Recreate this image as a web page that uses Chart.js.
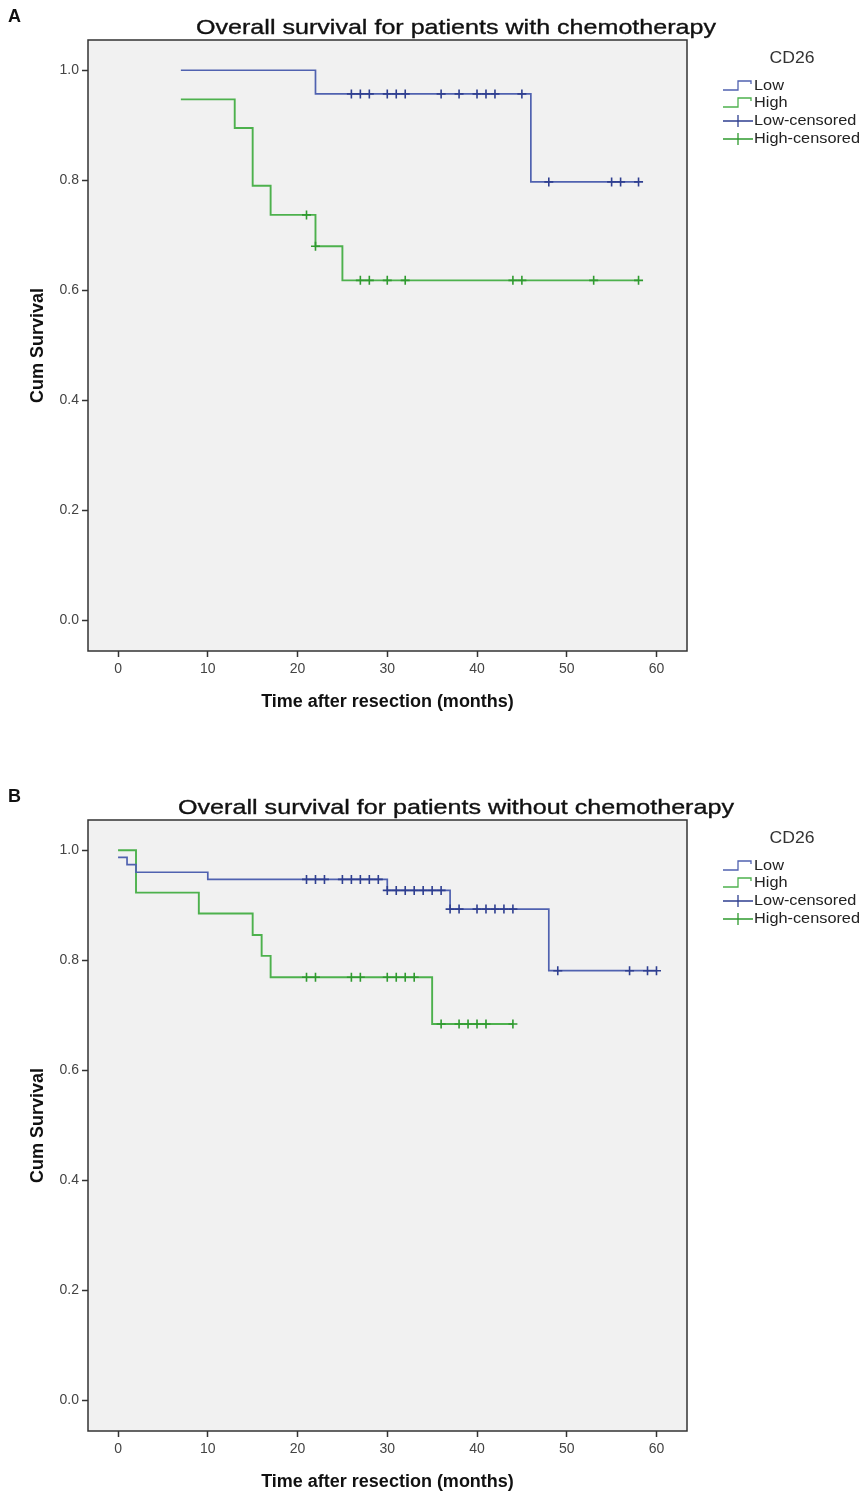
<!DOCTYPE html>
<html><head><meta charset="utf-8">
<script src="https://cdn.jsdelivr.net/npm/chart.js@4.4.0/dist/chart.umd.min.js"></script>
<style>
html,body{margin:0;padding:0;background:#fff;width:861px;height:1495px;overflow:hidden;}
.wrap{position:absolute;left:0;width:861px;}
</style></head><body>
<div class="wrap" style="top:0;height:780px"><canvas id="cA" width="861" height="780"></canvas></div>
<div class="wrap" style="top:780px;height:715px"><canvas id="cB" width="861" height="715"></canvas></div>
<script>
// ---- text / ticks ----
const xTickValues = [0, 10, 20, 30, 40, 50, 60];
const yTickValues = [0, 0.2, 0.4, 0.6, 0.8, 1.0];
const legendTitle = 'CD26';
const legendLabels = ['Low', 'High', 'Low-censored', 'High-censored'];
const panelLetters = ['A', 'B'];
const titleA = 'Overall survival for patients with chemotherapy';
const titleB = 'Overall survival for patients without chemotherapy';
const xAxisTitle = 'Time after resection (months)';
const yAxisTitle = 'Cum Survival';

// ---- Panel A (with chemotherapy) ----
const lowATime = [7, 22, 46, 58];
const lowASurv = [1.0, 0.957, 0.797, 0.797];
const highATime = [7, 13, 15, 17, 22, 25, 58];
const highASurv = [0.947, 0.895, 0.790, 0.737, 0.680, 0.618, 0.618];
const lowACensTime = [26, 27, 28, 30, 31, 32, 36, 38, 40, 41, 42, 45, 48, 55, 56, 58];
const lowACensSurv = [0.957, 0.957, 0.957, 0.957, 0.957, 0.957, 0.957, 0.957, 0.957, 0.957, 0.957, 0.957, 0.797, 0.797, 0.797, 0.797];
const highACensTime = [21, 22, 27, 28, 30, 32, 44, 45, 53, 58];
const highACensSurv = [0.737, 0.680, 0.618, 0.618, 0.618, 0.618, 0.618, 0.618, 0.618, 0.618];

// ---- Panel B (without chemotherapy) ----
const lowBTime = [0, 1, 2, 10, 30, 37, 48, 60];
const lowBSurv = [0.987, 0.974, 0.960, 0.947, 0.927, 0.893, 0.781, 0.781];
const highBTime = [0, 2, 9, 15, 16, 17, 35, 44];
const highBSurv = [1.0, 0.923, 0.885, 0.846, 0.808, 0.769, 0.684, 0.684];
const lowBCensTime = [21, 22, 23, 25, 26, 27, 28, 29, 30, 31, 32, 33, 34, 35, 36, 37, 38, 40, 41, 42, 43, 44, 49, 57, 59, 60];
const lowBCensSurv = [0.947, 0.947, 0.947, 0.947, 0.947, 0.947, 0.947, 0.947, 0.927, 0.927, 0.927, 0.927, 0.927, 0.927, 0.927, 0.893, 0.893, 0.893, 0.893, 0.893, 0.893, 0.893, 0.781, 0.781, 0.781, 0.781];
const highBCensTime = [21, 22, 26, 27, 30, 31, 32, 33, 36, 38, 39, 40, 41, 44];
const highBCensSurv = [0.769, 0.769, 0.769, 0.769, 0.769, 0.769, 0.769, 0.769, 0.684, 0.684, 0.684, 0.684, 0.684, 0.684];

const lowLine = '#5062b0', lowMark = '#2f3f90';
const highLine = '#4db14d', highMark = '#2f9a2f';

function pts(t, s) { return t.map((v, i) => ({ x: v, y: s[i] })); }

function drawStretched(ctx, text, x, y, font, width, align, stroke) {
  ctx.save();
  ctx.font = font;
  const w = ctx.measureText(text).width;
  const k = width ? width / w : 1;
  ctx.translate(x, y);
  ctx.scale(k, 1);
  ctx.textAlign = align || 'left';
  ctx.textBaseline = 'middle';
  ctx.fillText(text, 0, 0);
  if (stroke) { ctx.lineWidth = stroke; ctx.strokeStyle = ctx.fillStyle; ctx.strokeText(text, 0, 0); }
  ctx.restore();
}

const decor = {
  id: 'decor',
  beforeDraw(chart) {
    const { ctx, chartArea: a } = chart;
    ctx.save();
    ctx.fillStyle = '#f1f1f1';
    ctx.fillRect(a.left, a.top, a.right - a.left, a.bottom - a.top);
    ctx.restore();
  },
  beforeDatasetsDraw(chart) {
    const { ctx, chartArea: a } = chart;
    ctx.save();
    ctx.strokeStyle = '#333';
    ctx.lineWidth = 1.5;
    ctx.strokeRect(a.left, a.top, a.right - a.left, a.bottom - a.top);
    ctx.restore();
  },
  afterDraw(chart, args, o) {
    const ctx = chart.ctx;
    ctx.save();
    ctx.fillStyle = '#111';
    drawStretched(ctx, o.letter, 8, 17, 'bold 18px "Liberation Sans", Arial, sans-serif', 0, 'left');
    ctx.fillStyle = '#111';
    drawStretched(ctx, o.title, o.titleX, 28, '21px "Liberation Sans", Arial, sans-serif', o.titleW, 'center', 0.35);
    // legend
    ctx.fillStyle = '#333';
    drawStretched(ctx, legendTitle, 792, 59, '16px "Liberation Sans", Arial, sans-serif', 45, 'center');
    const rows = [86, 103, 121, 139];
    const cols = [lowLine, highLine, lowMark, highMark];
    const f = '15px "Liberation Sans", Arial, sans-serif';
    ctx.font = f;
    const k = 106 / ctx.measureText(legendLabels[3]).width;
    rows.forEach((y, i) => {
      ctx.strokeStyle = cols[i];
      ctx.lineWidth = 1.3;
      ctx.beginPath();
      if (i < 2) {
        ctx.moveTo(723, y + 4); ctx.lineTo(738, y + 4); ctx.lineTo(738, y - 5);
        ctx.lineTo(751, y - 5); ctx.lineTo(751, y - 2);
      } else {
        ctx.moveTo(723, y); ctx.lineTo(753, y);
        ctx.moveTo(738, y - 6); ctx.lineTo(738, y + 6);
      }
      ctx.stroke();
      ctx.fillStyle = '#222';
      ctx.font = f;
      const w = ctx.measureText(legendLabels[i]).width * k;
      drawStretched(ctx, legendLabels[i], 754, y, f, w, 'left');
    });
    ctx.restore();
  }
};

function makeChart(id, letter, title, titleW, low, high, lowC, highC) {
  const canvas = document.getElementById(id);
  const H = canvas.height;
  return new Chart(canvas, {
    type: 'line',
    data: {
      datasets: [
        { label: legendLabels[0], data: low, borderColor: lowLine, borderWidth: 1.7, stepped: 'before', pointRadius: 0, fill: false, order: 3 },
        { label: legendLabels[1], data: high, borderColor: highLine, borderWidth: 1.9, stepped: 'before', pointRadius: 0, fill: false, order: 4 },
        { label: legendLabels[2], data: lowC, showLine: false, pointStyle: 'cross', pointRadius: 4.5, pointBorderWidth: 1.6, pointBorderColor: lowMark, borderColor: lowMark, order: 1 },
        { label: legendLabels[3], data: highC, showLine: false, pointStyle: 'cross', pointRadius: 4.5, pointBorderWidth: 1.6, pointBorderColor: highMark, borderColor: highMark, order: 2 }
      ]
    },
    options: {
      responsive: false,
      animation: false,
      events: [],
      layout: { padding: { left: 0, top: 40, right: 861 - 687, bottom: H - 651 - 62 } },
      plugins: {
        legend: { display: false },
        tooltip: { enabled: false },
        decor: { letter, title, titleX: 456, titleW }
      },
      scales: {
        x: {
          type: 'linear', min: -3.35, max: 63.4,
          afterFit: s => { s.height = 62; },
          afterBuildTicks: s => { s.ticks = xTickValues.map(v => ({ value: v })); },
          border: { display: false },
          grid: { drawOnChartArea: false, drawTicks: true, tickLength: 6, tickColor: '#333', tickWidth: 1.5 },
          ticks: { color: '#444', padding: 4, maxRotation: 0, font: { family: '"Liberation Sans", Arial, sans-serif', size: 14 }, callback: v => String(v) },
          title: { display: true, text: xAxisTitle, color: '#111', padding: { top: 0, bottom: 0 }, font: { family: '"Liberation Sans", Arial, sans-serif', size: 18, weight: 'bold' } }
        },
        y: {
          type: 'linear', min: -0.056, max: 1.055,
          afterFit: s => { s.width = 88; },
          afterBuildTicks: s => { s.ticks = yTickValues.map(v => ({ value: v })); },
          border: { display: false },
          grid: { drawOnChartArea: false, drawTicks: true, tickLength: 6, tickColor: '#333', tickWidth: 1.5 },
          ticks: { color: '#444', padding: 3, font: { family: '"Liberation Sans", Arial, sans-serif', size: 14 }, callback: v => Number(v).toFixed(1) },
          title: { display: true, text: yAxisTitle, color: '#111', padding: { top: 27, bottom: 0 }, font: { family: '"Liberation Sans", Arial, sans-serif', size: 18, weight: 'bold' } }
        }
      }
    },
    plugins: [decor]
  });
}

makeChart('cA', panelLetters[0], titleA, 520,
  pts(lowATime, lowASurv), pts(highATime, highASurv),
  pts(lowACensTime, lowACensSurv), pts(highACensTime, highACensSurv));
makeChart('cB', panelLetters[1], titleB, 556,
  pts(lowBTime, lowBSurv), pts(highBTime, highBSurv),
  pts(lowBCensTime, lowBCensSurv), pts(highBCensTime, highBCensSurv));
</script>
</body></html>
